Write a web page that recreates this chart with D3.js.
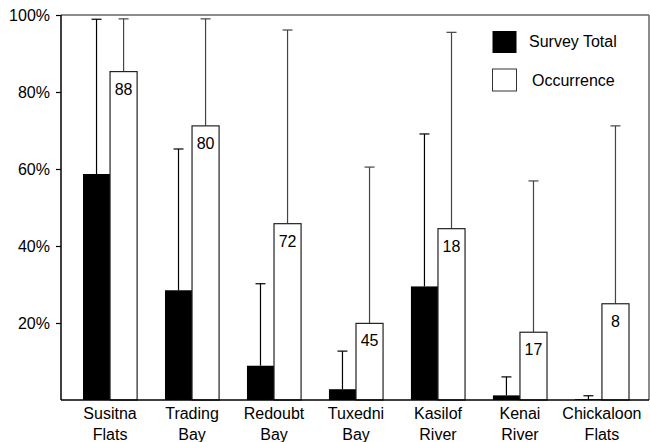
<!DOCTYPE html>
<html>
<head>
<meta charset="utf-8">
<script src="https://cdn.jsdelivr.net/npm/d3@7"></script>
<style>
  body { margin: 0; background: #fff; }
  svg text { font-family: Arial, "Liberation Sans", sans-serif; font-size: 16px; fill: #000; }
</style>
</head>
<body>
<svg id="chart" width="650" height="442"></svg>
<script>
// sites, two lines each
const sites = ["Susitna Flats", "Trading Bay", "Redoubt Bay", "Tuxedni Bay", "Kasilof River", "Kenai River", "Chickaloon Flats"];
const siteLines = [["Susitna", "Flats"], ["Trading", "Bay"], ["Redoubt", "Bay"], ["Tuxedni", "Bay"], ["Kasilof", "River"], ["Kenai", "River"], ["Chickaloon", "Flats"]];

// values in percent
const surveyTotal = [58.7, 28.5, 8.9, 2.8, 29.5, 1.2, 0.2];
const surveyUpper = [98.9, 65.2, 30.2, 12.7, 69.1, 6.0, 1.1];
const occurrence = [85.3, 71.2, 45.8, 19.9, 44.5, 17.6, 25.0];
const occurrenceUpper = [99.0, 99.0, 96.1, 60.5, 95.5, 56.9, 71.2];
const sampleSize = [88, 80, 72, 45, 18, 17, 8];

const yTicks = [20, 40, 60, 80, 100];

const margin = { left: 61, right: 1, top: 15, bottom: 42 };
const W = 650, H = 442;

const svg = d3.select("#chart");

const x = d3.scaleBand()
    .domain(sites)
    .range([83, 629])
    .paddingInner(0.34)
    .paddingOuter(0);

const y = d3.scaleLinear()
    .domain([0, 100])
    .range([H - margin.bottom, margin.top]);

const half = x.bandwidth() / 2;
const cap = 5;

// top and right frame
svg.append("line")
    .attr("x1", margin.left).attr("x2", W - margin.right)
    .attr("y1", y(100)).attr("y2", y(100))
    .attr("stroke", "#666").attr("stroke-width", 1.5);
svg.append("line")
    .attr("x1", W - margin.right).attr("x2", W - margin.right)
    .attr("y1", y(100)).attr("y2", y(0))
    .attr("stroke", "#666").attr("stroke-width", 1.5);

// error bars first so bars sit on top of them
function errorBar(vals, uppers, offset, color) {
    const g = svg.append("g").attr("stroke", color).attr("stroke-width", 1.2);
    sites.forEach((s, i) => {
        const cx = x(s) + offset;
        g.append("line")
            .attr("x1", cx).attr("x2", cx)
            .attr("y1", y(vals[i])).attr("y2", y(uppers[i]));
        g.append("line")
            .attr("x1", cx - cap).attr("x2", cx + cap)
            .attr("y1", y(uppers[i])).attr("y2", y(uppers[i]));
    });
}
errorBar(surveyTotal, surveyUpper, half / 2, "#000");
errorBar(occurrence, occurrenceUpper, half * 1.5, "#444");

// survey total bars
svg.append("g").selectAll("rect")
    .data(sites)
    .join("rect")
    .attr("x", d => x(d))
    .attr("y", (d, i) => y(surveyTotal[i]))
    .attr("width", half)
    .attr("height", (d, i) => y(0) - y(surveyTotal[i]))
    .attr("fill", "#000");

// occurrence bars
svg.append("g").selectAll("rect")
    .data(sites)
    .join("rect")
    .attr("x", d => x(d) + half)
    .attr("y", (d, i) => y(occurrence[i]))
    .attr("width", half)
    .attr("height", (d, i) => y(0) - y(occurrence[i]))
    .attr("fill", "#fff")
    .attr("stroke", "#222")
    .attr("stroke-width", 1.2);

// sample sizes inside white bars
svg.append("g").selectAll("text")
    .data(sites)
    .join("text")
    .attr("x", d => x(d) + half * 1.5)
    .attr("y", (d, i) => y(occurrence[i]) + 23)
    .attr("text-anchor", "middle")
    .text((d, i) => sampleSize[i]);

// y axis
const yAxis = svg.append("g")
    .attr("transform", `translate(${margin.left},0)`)
    .call(d3.axisLeft(y).tickValues(yTicks).tickSize(5).tickPadding(6).tickFormat(d => d + "%"));
yAxis.select(".domain").remove();
yAxis.selectAll(".tick line").attr("stroke", "#000").attr("stroke-width", 1.2);
yAxis.selectAll("text").attr("font-size", 16).attr("font-family", "Arial, 'Liberation Sans', sans-serif").attr("dy", "0.35em");

svg.append("line")
    .attr("x1", margin.left).attr("x2", margin.left)
    .attr("y1", y(100)).attr("y2", y(0))
    .attr("stroke", "#000").attr("stroke-width", 1.5);
svg.append("line")
    .attr("x1", margin.left).attr("x2", W - margin.right)
    .attr("y1", y(0)).attr("y2", y(0))
    .attr("stroke", "#000").attr("stroke-width", 1.5);

// category labels
const xl = svg.append("g").selectAll("text")
    .data(sites)
    .join("text")
    .attr("text-anchor", "middle")
    .attr("x", d => x(d) + half)
    .attr("y", 419);
xl.append("tspan")
    .attr("x", d => x(d) + half)
    .text((d, i) => siteLines[i][0]);
xl.append("tspan")
    .attr("x", d => x(d) + half)
    .attr("dy", 21)
    .text((d, i) => siteLines[i][1]);

// legend
const legend = svg.append("g");
legend.append("rect")
    .attr("x", 492.5).attr("y", 31).attr("width", 24).attr("height", 22)
    .attr("fill", "#000");
legend.append("text").attr("x", 529).attr("y", 47).text("Survey Total");
legend.append("rect")
    .attr("x", 492.5).attr("y", 69).attr("width", 24).attr("height", 22)
    .attr("fill", "#fff").attr("stroke", "#333").attr("stroke-width", 1);
legend.append("text").attr("x", 532).attr("y", 86).text("Occurrence");
</script>
</body>
</html>
